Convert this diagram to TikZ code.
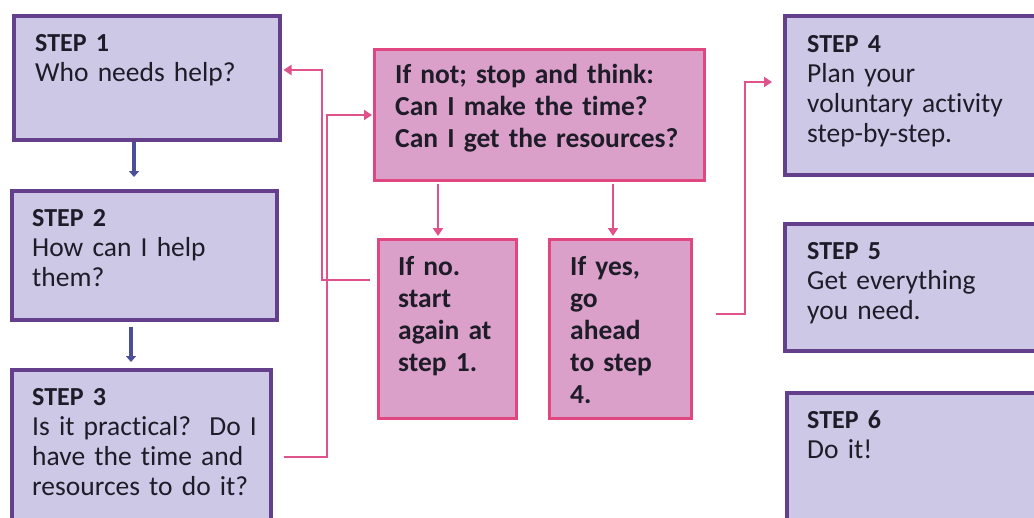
\documentclass[tikz,border=0pt]{standalone}
\usepackage{fontspec}
\setmainfont{Carlito}[Ligatures=NoCommon]
\usetikzlibrary{arrows.meta}

\definecolor{stepfill}{HTML}{CDC8E6}
\definecolor{stepdraw}{HTML}{643F8C}
\definecolor{askfill}{HTML}{DBA0CA}
\definecolor{askdraw}{HTML}{E0467F}
\definecolor{linkpink}{HTML}{E0528C}
\definecolor{downblue}{HTML}{4A4F98}
\definecolor{ink}{HTML}{1E1C28}

\begin{document}
\begin{tikzpicture}[x=1pt,y=-1pt,
  stepbox/.style={draw=stepdraw, line width=3.5pt, fill=stepfill, rectangle,
    anchor=north west, inner sep=0pt},
  askbox/.style={draw=askdraw, line width=3pt, fill=askfill, rectangle,
    anchor=north west, inner sep=0pt},
  steptext/.style={anchor=base west, inner sep=0pt, text width=250pt, align=left,
    text=ink, font=\fontsize{27.5}{30}\selectfont},
  asktext/.style={anchor=base west, inner sep=0pt, text width=300pt, align=left,
    text=ink, font=\fontsize{27.5}{32}\selectfont\bfseries},
  downarrow/.style={draw=downblue, line width=3.5pt, -{Triangle[width=10pt,length=6pt]}},
  linkarrow/.style={draw=linkpink, line width=2pt, -{Triangle[width=10pt,length=8pt]}}]

\useasboundingbox (0,0) rectangle (1034,517);
\begin{scope}
\clip (0,0) rectangle (1034,517);

% step boxes (left column)
\node[stepbox, minimum width=266pt, minimum height=124pt] (s1) at (12,14) {};
\node[stepbox, minimum width=265pt, minimum height=129pt] (s2) at (10,189) {};
\node[stepbox, minimum width=259pt, minimum height=170pt] (s3) at (10,368) {};
% step boxes (right column)
\node[stepbox, minimum width=270pt, minimum height=159pt] (s4) at (783,14) {};
\node[stepbox, minimum width=270pt, minimum height=127pt] (s5) at (783,222) {};
\node[stepbox, minimum width=270pt, minimum height=150pt] (s6) at (785,391) {};
% decision boxes
\node[askbox, minimum width=330pt, minimum height=131pt] (ask) at (373,48) {};
\node[askbox, minimum width=138pt, minimum height=179pt] (no) at (377,238) {};
\node[askbox, minimum width=142pt, minimum height=179pt] (yes) at (548,238) {};

% texts
\newcommand{\stepname}[1]{{\fontsize{26}{30}\selectfont\bfseries #1}}
\node[steptext] (t1) at (35,51) {\stepname{STEP 1}\\Who needs help?};
\node[steptext] (t2) at (32,226) {\stepname{STEP 2}\\How can I help\\them?};
\node[steptext] (t3) at (32,405) {\stepname{STEP 3}\\Is it practical?\ \ Do I\\have the time and\\resources to do it?};
\node[steptext] (t4) at (807,52) {\stepname{STEP 4}\\Plan your\\voluntary activity\\step-by-step.};
\node[steptext] (t5) at (807,259) {\stepname{STEP 5}\\Get everything\\you need.};
\node[steptext] (t6) at (807,428) {\stepname{STEP 6}\\Do it!};
\node[asktext] (ta) at (395,83) {If not; stop and think:\\Can I make the time?\\Can I get the resources?};
\node[asktext] (tn) at (398,275) {If no.\\start\\again at\\step 1.};
\node[asktext] (ty) at (570,275) {If yes,\\go\\ahead\\to step\\4.};

% bend points of the connectors
\coordinate (b1) at (134,0);
\coordinate (b2) at (131,0);
\coordinate (d1) at (438,0);
\coordinate (d2) at (613,0);
\coordinate (j1) at (327,457);
\coordinate (k1) at (327,115);
\coordinate (j2) at (322,280);
\coordinate (k2) at (322,70);
\coordinate (j3) at (745,314);
\coordinate (k3) at (745,82);

% blue arrows between steps
\draw[downarrow, shorten >=12pt] (s1.south -| b1) -- (s2.north -| b1);
\draw[downarrow, shorten <=5pt, shorten >=6pt] (s2.south -| b2) -- (s3.north -| b2);

% pink arrows out of the question box
\draw[linkarrow, shorten <=2pt, shorten >=2pt] (ask.south -| d1) -- (no.north -| d1);
\draw[linkarrow, shorten <=2pt, shorten >=2pt] (ask.south -| d2) -- (yes.north -| d2);

% step 3 to the question box
\draw[linkarrow, shorten <=11pt, shorten >=1pt] (s3.east |- j1) -- (j1) -- (k1) -- (ask.west |- k1);
% "no" back to step 1
\draw[linkarrow, shorten <=7pt, shorten >=2pt] (no.west |- j2) -- (j2) -- (k2) -- (s1.east |- k2);
% "yes" on to step 4
\draw[linkarrow, shorten <=23pt, shorten >=11pt] (yes.east |- j3) -- (j3) -- (k3) -- (s4.west |- k3);
\end{scope}
\end{tikzpicture}
\end{document}
